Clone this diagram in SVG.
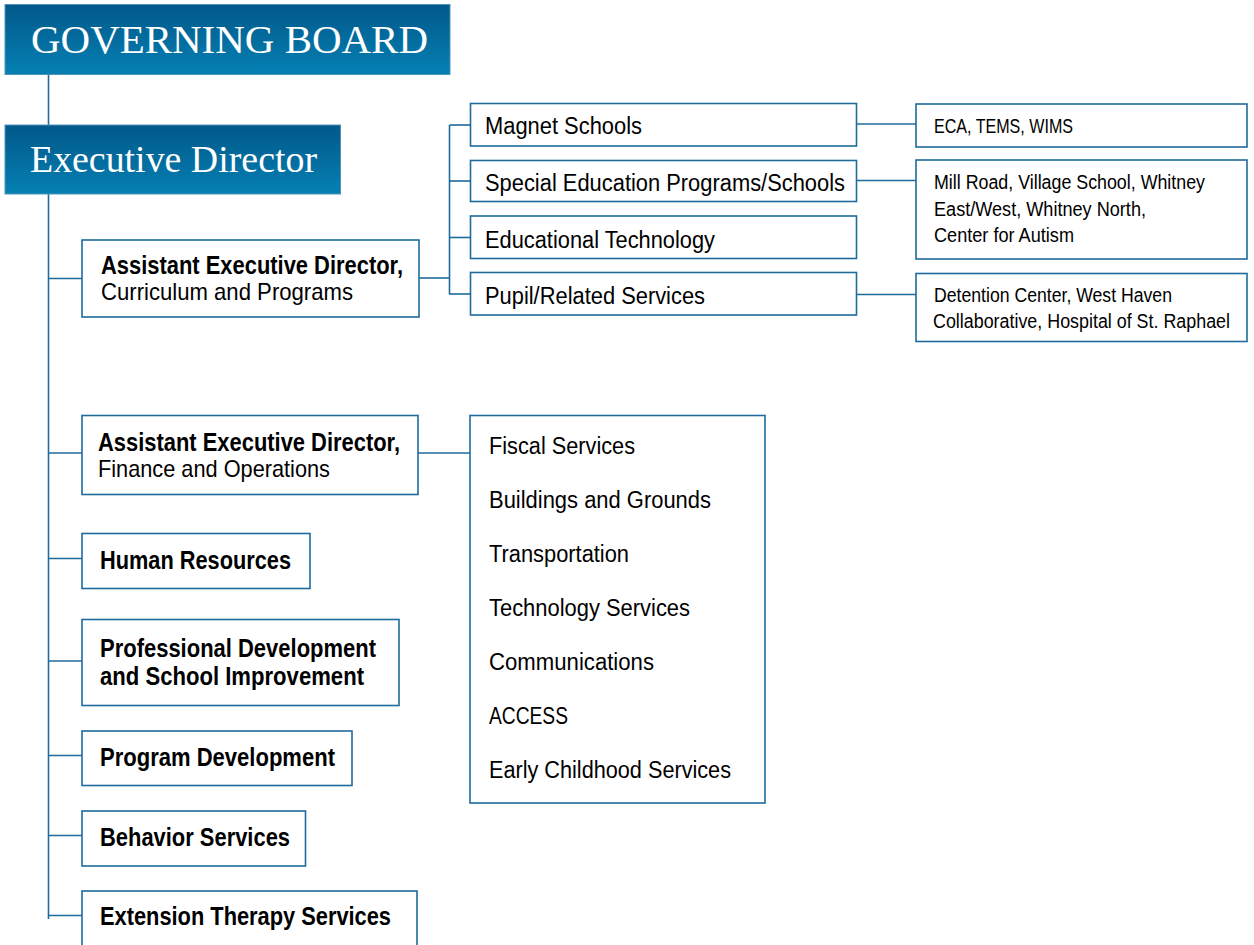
<svg xmlns="http://www.w3.org/2000/svg" width="1254" height="945" viewBox="0 0 1254 945">
<defs>
<linearGradient id="blueGrad" x1="0" y1="0" x2="0" y2="1">
<stop offset="0" stop-color="#02588a"/>
<stop offset="1" stop-color="#0580b3"/>
</linearGradient>
<style>
.hdr{fill:url(#blueGrad);stroke:#4f93bb;stroke-width:1}
.hdrt{font-family:"Liberation Serif","Times New Roman",serif;fill:#ffffff}
.box{fill:#ffffff;stroke:#1f6b9d;stroke-width:1.6}
.ln{stroke:#1f6b9d;stroke-width:1.6;fill:none}
.b{font-family:"Liberation Sans",Arial,sans-serif;font-weight:bold;font-size:25px;fill:#000000}
.r{font-family:"Liberation Sans",Arial,sans-serif;font-size:24px;fill:#000000}
.m{font-family:"Liberation Sans",Arial,sans-serif;font-size:23.5px;fill:#000000}
.s{font-family:"Liberation Sans",Arial,sans-serif;font-size:19.5px;fill:#000000}
</style>
</defs>
<rect width="1254" height="945" fill="#ffffff"/>
<g id="connectors">
<line class="ln" x1="48.5" y1="75" x2="48.5" y2="125"/>
<line class="ln" x1="48.5" y1="194" x2="48.5" y2="919"/>
<line class="ln" x1="48" y1="278.5" x2="82" y2="278.5"/>
<line class="ln" x1="48" y1="453" x2="82" y2="453"/>
<line class="ln" x1="48" y1="558.5" x2="82" y2="558.5"/>
<line class="ln" x1="48" y1="661" x2="82" y2="661"/>
<line class="ln" x1="48" y1="755.5" x2="82" y2="755.5"/>
<line class="ln" x1="48" y1="835.5" x2="82" y2="835.5"/>
<line class="ln" x1="48" y1="915.5" x2="82" y2="915.5"/>
<line class="ln" x1="419" y1="278" x2="449.5" y2="278"/>
<line class="ln" x1="449.5" y1="125" x2="449.5" y2="294.5"/>
<line class="ln" x1="449.5" y1="125" x2="470.5" y2="125"/>
<line class="ln" x1="449.5" y1="181" x2="470.5" y2="181"/>
<line class="ln" x1="449.5" y1="237.5" x2="470.5" y2="237.5"/>
<line class="ln" x1="449.5" y1="294" x2="470.5" y2="294"/>
<line class="ln" x1="856.5" y1="124" x2="916" y2="124"/>
<line class="ln" x1="856.5" y1="180.5" x2="916" y2="180.5"/>
<line class="ln" x1="856.5" y1="294.5" x2="916" y2="294.5"/>
<line class="ln" x1="418" y1="453" x2="470" y2="453"/>
</g>
<g id="governing-board">
<rect class="hdr" x="5" y="4.5" width="445" height="70"/>
<text class="hdrt" x="31" y="53" font-size="40" textLength="397" lengthAdjust="spacingAndGlyphs">GOVERNING BOARD</text>
</g>
<g id="executive-director">
<rect class="hdr" x="5" y="125" width="335.5" height="69"/>
<text class="hdrt" x="30" y="172" font-size="38" textLength="287" lengthAdjust="spacingAndGlyphs">Executive Director</text>
</g>
<g id="aed-curriculum">
<rect class="box" x="82" y="240" width="337" height="77"/>
<text class="b" x="101" y="274" textLength="302" lengthAdjust="spacingAndGlyphs">Assistant Executive Director,</text>
<text class="r" x="101" y="300" textLength="252" lengthAdjust="spacingAndGlyphs">Curriculum and Programs</text>
</g>
<g id="magnet-schools">
<rect class="box" x="470.5" y="103.5" width="386" height="42.5"/>
<text class="m" x="485" y="134" textLength="157" lengthAdjust="spacingAndGlyphs">Magnet Schools</text>
</g>
<g id="special-education">
<rect class="box" x="470.5" y="160.5" width="386" height="41"/>
<text class="m" x="485" y="191" textLength="360" lengthAdjust="spacingAndGlyphs">Special Education Programs/Schools</text>
</g>
<g id="educational-technology">
<rect class="box" x="470.5" y="216" width="386" height="42.5"/>
<text class="m" x="485" y="247.5" textLength="230" lengthAdjust="spacingAndGlyphs">Educational Technology</text>
</g>
<g id="pupil-services">
<rect class="box" x="470.5" y="272.5" width="386" height="42.5"/>
<text class="m" x="485" y="304" textLength="220" lengthAdjust="spacingAndGlyphs">Pupil/Related Services</text>
</g>
<g id="eca">
<rect class="box" x="916" y="104" width="331" height="43"/>
<text class="s" x="934" y="133" font-size="17.5" textLength="139" lengthAdjust="spacingAndGlyphs">ECA, TEMS, WIMS</text>
</g>
<g id="mill-road">
<rect class="box" x="916" y="160" width="331" height="99"/>
<text class="s" x="934" y="189" textLength="271" lengthAdjust="spacingAndGlyphs">Mill Road, Village School, Whitney</text>
<text class="s" x="934" y="215.5" textLength="212" lengthAdjust="spacingAndGlyphs">East/West, Whitney North,</text>
<text class="s" x="934" y="241.5" textLength="140" lengthAdjust="spacingAndGlyphs">Center for Autism</text>
</g>
<g id="detention-center">
<rect class="box" x="916" y="273.5" width="331" height="68"/>
<text class="s" x="934" y="301.5" textLength="238" lengthAdjust="spacingAndGlyphs">Detention Center, West Haven</text>
<text class="s" x="933" y="328" font-size="18" textLength="297" lengthAdjust="spacingAndGlyphs">Collaborative, Hospital of St. Raphael</text>
</g>
<g id="aed-finance">
<rect class="box" x="82" y="415.5" width="336" height="79"/>
<text class="b" x="98" y="451" textLength="302" lengthAdjust="spacingAndGlyphs">Assistant Executive Director,</text>
<text class="r" x="98" y="477" textLength="232" lengthAdjust="spacingAndGlyphs">Finance and Operations</text>
</g>
<g id="finance-services">
<rect class="box" x="470" y="415.5" width="295" height="387.5"/>
<text class="m" x="489" y="454" textLength="146" lengthAdjust="spacingAndGlyphs">Fiscal Services</text>
<text class="m" x="489" y="508" textLength="222" lengthAdjust="spacingAndGlyphs">Buildings and Grounds</text>
<text class="m" x="489" y="562" textLength="140" lengthAdjust="spacingAndGlyphs">Transportation</text>
<text class="m" x="489" y="616" textLength="201" lengthAdjust="spacingAndGlyphs">Technology Services</text>
<text class="m" x="489" y="670" textLength="165" lengthAdjust="spacingAndGlyphs">Communications</text>
<text class="m" x="489" y="724" textLength="79" lengthAdjust="spacingAndGlyphs">ACCESS</text>
<text class="m" x="489" y="778" textLength="242" lengthAdjust="spacingAndGlyphs">Early Childhood Services</text>
</g>
<g id="human-resources">
<rect class="box" x="82" y="533.5" width="228" height="55"/>
<text class="b" x="100" y="568.5" textLength="191" lengthAdjust="spacingAndGlyphs">Human Resources</text>
</g>
<g id="professional-development">
<rect class="box" x="82" y="619.5" width="317" height="86"/>
<text class="b" x="100" y="657" textLength="276" lengthAdjust="spacingAndGlyphs">Professional Development</text>
<text class="b" x="100" y="685" textLength="264" lengthAdjust="spacingAndGlyphs">and School Improvement</text>
</g>
<g id="program-development">
<rect class="box" x="82" y="731" width="270" height="54.5"/>
<text class="b" x="100" y="766" textLength="235" lengthAdjust="spacingAndGlyphs">Program Development</text>
</g>
<g id="behavior-services">
<rect class="box" x="82" y="811" width="223.5" height="55"/>
<text class="b" x="100" y="846" textLength="190" lengthAdjust="spacingAndGlyphs">Behavior Services</text>
</g>
<g id="extension-therapy">
<rect class="box" x="82" y="891" width="335" height="70"/>
<text class="b" x="100" y="925" textLength="291" lengthAdjust="spacingAndGlyphs">Extension Therapy Services</text>
</g>
</svg>
